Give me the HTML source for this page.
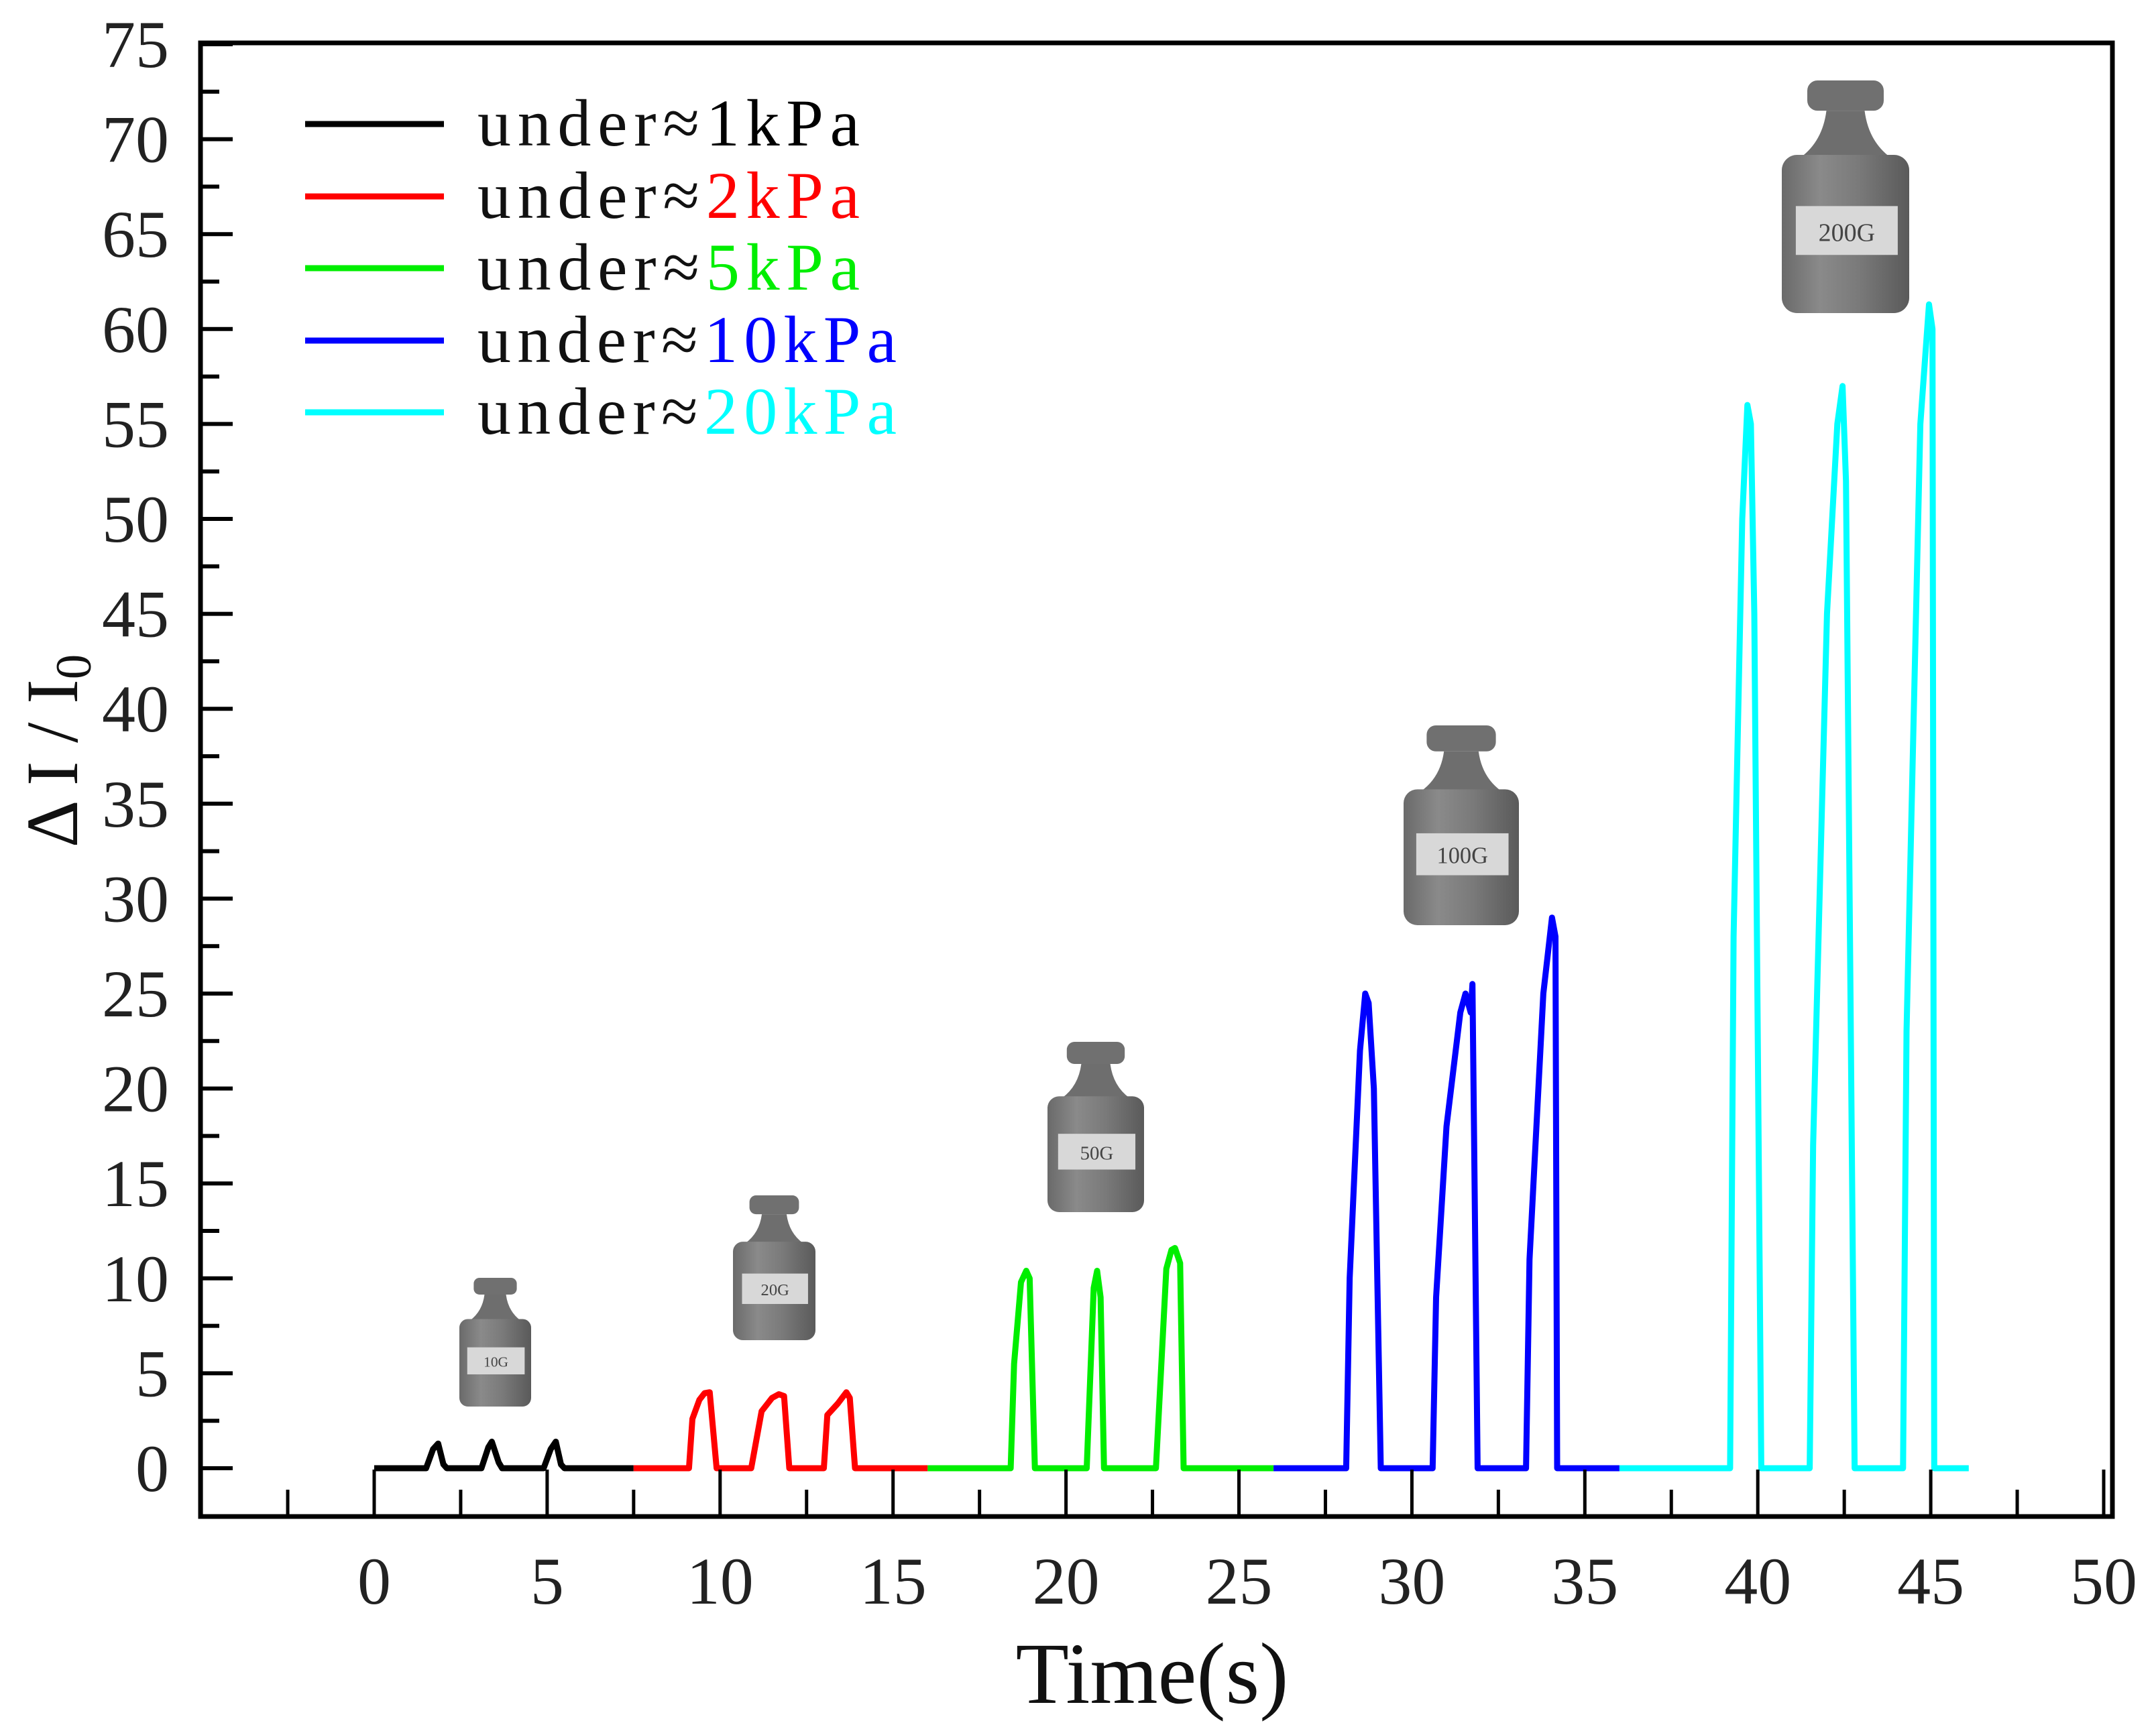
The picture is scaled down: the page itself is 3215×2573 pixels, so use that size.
<!DOCTYPE html>
<html><head><meta charset="utf-8"><style>
html,body{margin:0;padding:0;background:#fff;}
svg{display:block;}
text{font-family:"Liberation Serif","DejaVu Serif",serif;}
</style></head><body>
<svg id="chart" width="3215" height="2573" viewBox="0 0 3215 2573" xmlns="http://www.w3.org/2000/svg">
<defs>
<linearGradient id="wg" x1="0" x2="1" y1="0" y2="0">
<stop offset="0" stop-color="#6a6a6a"/><stop offset="0.3" stop-color="#8a8a8a"/><stop offset="0.6" stop-color="#7a7a7a"/><stop offset="1" stop-color="#5a5a5a"/>
</linearGradient>
</defs>
<g id="weights"></g>
<g id="series"></g>
<g id="axes"></g>
<g id="legend"></g>
</svg>
<script>
const NS='http://www.w3.org/2000/svg';
const xTicks=[0,5,10,15,20,25,30,35,40,45,50];
const yTicks=[0,5,10,15,20,25,30,35,40,45,50,55,60,65,70,75];
const seriesNames=['under≈1kPa','under≈2kPa','under≈5kPa','under≈10kPa','under≈20kPa'];
const seriesLabels=['1kPa','2kPa','5kPa','10kPa','20kPa'];
const seriesColors=['#000000','#ff0000','#00ee00','#0000ff','#00ffff'];
const tBlack=[0,1.5,1.7,1.85,2.0,2.1,3.1,3.3,3.4,3.6,3.7,4.9,5.1,5.25,5.4,5.5,7.5];
const yBlack=[0,0,1.0,1.3,0.2,0,0,1.1,1.4,0.3,0,0,1.0,1.4,0.2,0,0];
const tRed=[7.5,9.1,9.2,9.4,9.55,9.7,9.9,10.9,11.2,11.5,11.7,11.85,12.0,13.0,13.1,13.4,13.65,13.75,13.9,16];
const yRed=[0,0,2.6,3.6,3.95,4.0,0,0,3.0,3.7,3.9,3.8,0,0,2.8,3.4,4.0,3.7,0,0];
const tGreen=[16,18.4,18.5,18.7,18.85,18.95,19.1,20.6,20.8,20.9,21.0,21.1,22.6,22.9,23.05,23.15,23.3,23.4,26];
const yGreen=[0,0,5.5,9.8,10.4,10.0,0,0,9.5,10.4,9,0,0,10.5,11.5,11.6,10.8,0,0];
const tBlue=[26,28.1,28.2,28.5,28.65,28.75,28.9,29.0,29.1,30.6,30.7,31.0,31.4,31.55,31.7,31.75,31.9,33.3,33.4,33.8,34.05,34.15,34.2,36];
const yBlue=[0,0,10,22,25,24.5,20,10,0,0,9,18,24,25,24,25.5,0,0,11,25,29,28,0,0];
const tCyan=[36,39.2,39.3,39.55,39.7,39.8,39.9,40.1,41.5,41.6,42.0,42.3,42.45,42.55,42.8,44.2,44.3,44.7,44.95,45.05,45.1,46.1];
const yCyan=[0,0,28,50,56,55,45,0,0,17,45,55,57,52,0,0,23,55,61.3,60,0,0];
const weightLabels=['10G','20G','50G','100G','200G'];

const X0=558, XU=51.58, Y0=2190, YU=28.32;
function sx(v){return X0+v*XU;}
function sy(v){return Y0-v*YU;}
function mk(tag,attrs,parent){const e=document.createElementNS(NS,tag);for(const k in attrs)e.setAttribute(k,attrs[k]);parent.appendChild(e);return e;}

const wBoxes=[[685,1906,107,192],[1093,1783,123,216],[1562,1554,144,254],[2093,1082,172,298],[2657,120,190,347]];
const wg=document.getElementById('weights');
wBoxes.forEach((b,i)=>{
  const [x,y,w,h]=b;
  const g=mk('g',{},wg);
  
  
  mk('rect',{x:x+0.2*w,y:y,width:0.6*w,height:0.13*h,rx:0.08*w,fill:'#707070'},g);
  mk('path',{d:`M${x+0.35*w},${y+0.13*h} L${x+0.65*w},${y+0.13*h} Q${x+0.68*w},${y+0.26*h} ${x+0.85*w},${y+0.33*h} L${x+0.15*w},${y+0.33*h} Q${x+0.32*w},${y+0.26*h} ${x+0.35*w},${y+0.13*h}Z`,fill:'#6e6e6e'},g);
  mk('rect',{x:x,y:y+0.32*h,width:w,height:0.68*h,rx:0.12*w,fill:'url(#wg)'},g);
  mk('rect',{x:x+0.11*w,y:y+0.54*h,width:0.8*w,height:0.21*h,fill:'#d8d8d8'},g);
  const t=mk('text',{x:x+0.51*w,y:y+0.69*h,'text-anchor':'middle','font-size':0.2*w,fill:'#444','font-family':'Liberation Sans, sans-serif'},g);
  t.textContent=weightLabels[i];
});

const allT=[tBlack,tRed,tGreen,tBlue,tCyan], allY=[yBlack,yRed,yGreen,yBlue,yCyan];
const sg=document.getElementById('series');
allT.forEach((ts,i)=>{
  const d=ts.map((t,j)=>(j?'L':'M')+sx(t).toFixed(1)+','+sy(allY[i][j]).toFixed(1)).join(' ');
  const p=mk('path',{d:d,fill:'none',stroke:seriesColors[i],'stroke-width':9,'stroke-linejoin':'round'},sg);
  
  
});

const ag=document.getElementById('axes');
const frame=mk('rect',{x:299,y:64,width:2851,height:2198,fill:'none',stroke:'#000','stroke-width':7},ag);


for(let v=-5;v<=50;v+=2.5){
  const major=(v%5===0);
  const t=mk('line',{x1:sx(v),x2:sx(v),y1:2262,y2:2262-(major?70:40),stroke:'#000','stroke-width':5},ag);
  
  
}
xTicks.forEach(v=>{
  const t=mk('text',{x:sx(v),y:2392,'text-anchor':'middle','font-size':100,fill:'#222'},ag);
  
  
  t.textContent=v;
});
for(let v=0;v<=75;v+=2.5){
  const major=(v%5===0);
  const t=mk('line',{x1:299,x2:299+(major?48:28),y1:sy(v),y2:sy(v),stroke:'#000','stroke-width':6},ag);
  
  
}
yTicks.forEach(v=>{
  const t=mk('text',{x:252,y:sy(v)+34,'text-anchor':'end','font-size':100,fill:'#222'},ag);
  
  
  t.textContent=v;
});
const xt=mk('text',{x:1718,y:2540,'text-anchor':'middle','font-size':130,fill:'#111'},ag);


xt.textContent='Time(s)';
const yt=mk('text',{x:0,y:0,'text-anchor':'middle','font-size':110,fill:'#111',transform:'translate(115,1120) rotate(-90)'},ag);


yt.innerHTML='Δ I / I<tspan font-size="75" dy="20">0</tspan>';

const lg=document.getElementById('legend');
const rows=[185,293,400,508,615];
const lens=[570,570,570,625,625];
seriesLabels.forEach((s,i)=>{
  const g=mk('g',{},lg);
  
  
  mk('line',{x1:455,x2:662,y1:rows[i],y2:rows[i],stroke:seriesColors[i],'stroke-width':9},g);
  const t=mk('text',{x:712,y:rows[i]+32,'font-size':100,fill:'#111',textLength:lens[i],lengthAdjust:'spacing'},g);
  const a=mk('tspan',{},t);a.textContent='under≈';
  const b=mk('tspan',{fill:seriesColors[i]},t);b.textContent=s;
});
</script>
</body></html>
